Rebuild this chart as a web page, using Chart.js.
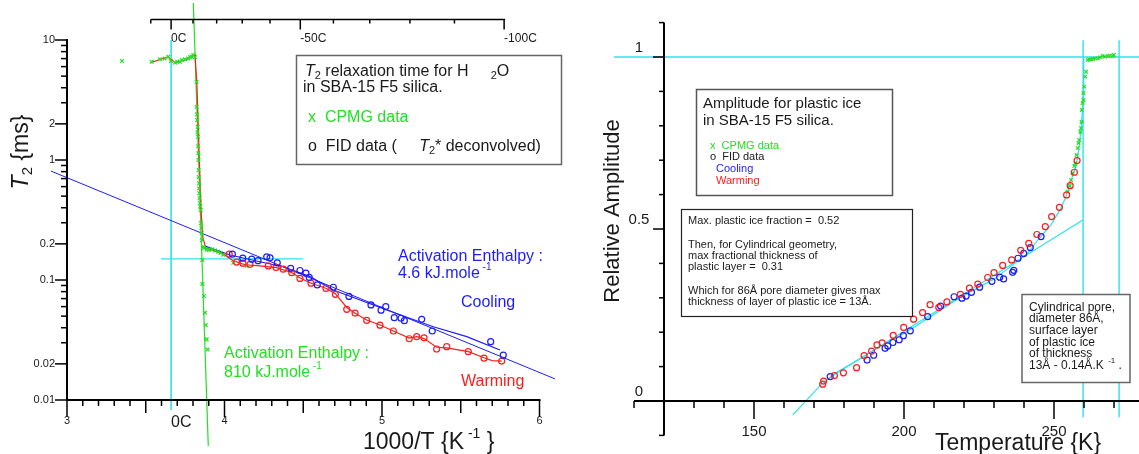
<!DOCTYPE html>
<html lang="en">
<head>
  <meta charset="UTF-8" />
  <title>T2 relaxation and plastic ice amplitude, H2O in SBA-15 F5</title>
  <script src="https://cdn.jsdelivr.net/npm/chart.js"></script>
  <style>
    html, body {
      margin: 0;
      padding: 0;
      background: #ffffff;
      width: 1139px;
      height: 454px;
      overflow: hidden;
    }
    canvas { position: absolute; top: 0; }
    #leftChart { left: 0; }
    #rightChart { left: 580px; }
  </style>
</head>
<body>
  <canvas id="leftChart" width="580" height="454"></canvas>
  <canvas id="rightChart" width="559" height="454"></canvas>

  <script>
    // ---------- left panel: T2 (ms) against 1000/T (K^-1) ----------
    const cpmgX = [3.349, 3.538, 3.590, 3.620, 3.643, 3.660, 3.686, 3.700, 3.717, 3.730, 3.749, 3.770, 3.781, 3.790, 3.802, 3.813,
                   3.823, 3.823, 3.826, 3.827, 3.829, 3.830, 3.832, 3.833, 3.834, 3.835, 3.836, 3.837, 3.838, 3.839, 3.840, 3.842,
                   3.844, 3.846, 3.849, 3.851, 3.853, 3.855, 3.857, 3.859, 3.865, 3.870, 3.887, 3.900, 3.919, 3.940, 3.961, 3.975,
                   3.992, 4.056, 4.141, 3.859, 3.870, 3.876, 3.881, 3.887, 3.893];
    const cpmgY = [6.68, 6.59, 6.90, 7.00, 7.26, 6.70, 6.47, 6.60, 6.59, 6.80, 6.90, 7.00, 7.18, 7.30, 7.50, 7.18,
                   4.49, 2.78, 2.40, 2.15, 1.70, 1.89, 1.56, 1.30, 1.14, 1.00, 0.825, 0.72, 0.64, 0.58, 0.528, 0.48,
                   0.438, 0.41, 0.383, 0.298, 0.27, 0.246, 0.215, 0.147, 0.189, 0.185, 0.180, 0.178, 0.180, 0.176, 0.172, 0.168,
                   0.162, 0.139, 0.131, 0.0927, 0.0736, 0.0534, 0.0422, 0.0320, 0.0264];

    const coolX = [4.050, 4.116, 4.173, 4.213, 4.268, 4.289, 4.335, 4.420, 4.479, 4.517, 4.538, 4.589, 4.691, 4.790,
                   4.930, 4.994, 5.024, 5.078, 5.121, 5.142, 5.252, 5.319, 5.690, 5.770];
    const coolY = [0.164, 0.152, 0.149, 0.145, 0.156, 0.153, 0.139, 0.125, 0.120, 0.114, 0.105, 0.091, 0.087, 0.073,
                   0.062, 0.056, 0.060, 0.0485, 0.048, 0.0458, 0.047, 0.0376, 0.0306, 0.0237];

    const warmX = [4.030, 4.077, 4.117, 4.162, 4.278, 4.327, 4.373, 4.427, 4.479, 4.549, 4.644, 4.704, 4.776, 4.829,
                   4.903, 4.987, 5.072, 5.173, 5.220, 5.267, 5.347, 5.411, 5.548, 5.648, 5.760];
    const warmY = [0.164, 0.141, 0.138, 0.135, 0.131, 0.127, 0.123, 0.115, 0.103, 0.094, 0.085, 0.076, 0.057, 0.053,
                   0.046, 0.042, 0.0376, 0.0324, 0.0337, 0.0330, 0.0266, 0.0278, 0.0253, 0.0223, 0.0211];

    // smoothed curves through the data
    const warmLineX = [3.531, 3.590, 3.641, 3.686, 3.749, 3.813, 3.825, 3.838, 3.851, 3.863, 3.881, 3.908, 3.990, 4.054,
                       4.130, 4.225, 4.330, 4.430, 4.480, 4.550, 4.644, 4.704, 4.776, 4.829, 4.903, 4.987, 5.072, 5.173,
                       5.220, 5.267, 5.347, 5.411, 5.548, 5.648, 5.700, 5.760];
    const warmLineY = [6.47, 6.88, 7.20, 6.47, 6.81, 7.50, 4.22, 1.21, 0.383, 0.224, 0.185, 0.180, 0.166, 0.145,
                       0.134, 0.131, 0.1266, 0.115, 0.104, 0.094, 0.0853, 0.077, 0.059, 0.0528, 0.0464, 0.0422, 0.0376, 0.0328,
                       0.0337, 0.0325, 0.0275, 0.0272, 0.0253, 0.0225, 0.0213, 0.0211];
    const coolLineX = [3.870, 3.887, 4.035, 4.225, 4.373, 4.543, 4.691, 5.030, 5.326, 5.538, 5.749];
    const coolLineY = [0.195, 0.1895, 0.1616, 0.142, 0.129, 0.1066, 0.0826, 0.0562, 0.0408, 0.0337, 0.0261];

    // activation-enthalpy fits and guide lines
    const slowFitX = [2.898, 6.098];
    const slowFitY = [0.809, 0.0150];
    const fastFitX = [3.802, 3.897];
    const fastFitY = [20.3, 0.00414];
    const zeroCX = [1000 / 273.15, 1000 / 273.15];
    const zeroCY = [10, 0.00826];
    const levelX = [3.597, 4.498];
    const levelY = [0.15, 0.15];

    const t2Ticks = [10, 2, 1, 0.2, 0.1, 0.02, 0.01];
    const t2TickLabels = ['10', '2', '1', '0.2', '0.1', '0.02', '0.01'];
    const invTTicks = [3, 4, 5, 6];
    const celsiusTicks = [0, -50, -100];
    const celsiusLabels = ['0C', '-50C', '-100C'];

    // ---------- right panel: relative amplitude against temperature ----------
    const ampCpmgT = [254.6, 255.2, 255.7, 256.2, 256.8, 257.1, 257.5, 257.9, 258.2, 258.4, 258.8, 259.0, 259.2, 259.3,
                      259.5, 259.8, 259.8, 260.1, 260.4, 260.7, 261.2, 261.7, 262.3, 263.0, 263.7, 264.6, 265.3, 266.2,
                      267.0, 267.9, 268.7, 269.6, 270.0, 270.7];
    const ampCpmgA = [0.608, 0.625, 0.642, 0.662, 0.683, 0.691, 0.715, 0.735, 0.750, 0.759, 0.782, 0.793, 0.811, 0.846,
                      0.866, 0.875, 0.895, 0.914, 0.943, 0.957, 0.991, 0.993, 0.993, 0.994, 0.996, 0.996, 0.999, 1.003,
                      1.001, 1.003, 1.004, 1.003, 1.006, 1.006];

    const ampCoolT = [175.4, 187.7, 189.9, 193.7, 194.6, 196.3, 198.4, 199.8, 202.1, 207.9, 212.2, 216.7, 219.3, 220.7,
                      222.5, 225.2, 229.3, 231.9, 233.2, 236.2, 236.6, 238.0, 239.9, 242.1, 245.7];
    const ampCoolA = [0.071, 0.119, 0.133, 0.153, 0.160, 0.170, 0.178, 0.190, 0.204, 0.245, 0.276, 0.303, 0.299, 0.305,
                      0.316, 0.331, 0.348, 0.360, 0.355, 0.374, 0.380, 0.415, 0.429, 0.446, 0.478];

    const ampWarmT = [172.9, 173.2, 176.8, 179.8, 184.2, 186.7, 189.2, 191.0, 192.7, 196.4, 199.9, 203.2, 206.2, 208.7,
                      211.6, 214.3, 218.8, 221.8, 224.6, 227.9, 230.0, 232.9, 235.9, 238.9, 241.6, 244.3, 247.1, 249.2,
                      251.8, 254.2, 255.4, 256.8, 257.7];
    const ampWarmA = [0.049, 0.058, 0.074, 0.082, 0.097, 0.132, 0.145, 0.163, 0.169, 0.191, 0.214, 0.238, 0.257, 0.280,
                      0.272, 0.288, 0.310, 0.328, 0.340, 0.359, 0.373, 0.394, 0.410, 0.438, 0.458, 0.484, 0.507, 0.536,
                      0.563, 0.599, 0.626, 0.665, 0.699];

    const modelT = [162.9, 167.9, 172.3, 177.9, 184.6, 192.3, 200.1, 207.9, 215.7, 222.3, 230.1, 241.2, 244.6, 249.0,
                    252.3, 254.0, 255.7, 257.3, 258.4, 259.2, 259.7, 259.9, 259.9];
    const modelA = [-0.041, 0.006, 0.047, 0.085, 0.119, 0.160, 0.197, 0.240, 0.284, 0.318, 0.355, 0.429, 0.468, 0.512,
                    0.560, 0.594, 0.642, 0.681, 0.739, 0.807, 0.885, 0.953, 1.0];
    const layerT = [175, 259.6];
    const layerA = [0.067, 0.526];
    const meltT1 = [259.7, 259.7];
    const meltT2 = [271.7, 271.7];
    const meltA = [-0.047, 1.049];
    const fullT = [103.3, 279];
    const fullA = [1, 1];

    const ampTicks = [1, 0.5, 0];
    const ampTickLabels = ['1', '0.5', '0'];
    const tempTicks = [150, 200, 250];

    // ---------- helpers ----------
    const FONT = 'Arial, "Liberation Sans", Helvetica, sans-serif';
    const GREEN = '#22e022', BLUE = '#1c1cff', RED = '#ff1c1c', CYAN = '#2ee2ee', INK = '#1a1a1a';

    const pts = (xs, ys) => xs.map((x, i) => ({ x: x, y: ys[i] }));

    function seg(ctx, x1, y1, x2, y2) {
      ctx.beginPath();
      ctx.moveTo(x1, y1);
      ctx.lineTo(x2, y2);
      ctx.stroke();
    }

    function fontOf(p) {
      return (p[3] ? 'italic ' : '') + p[1] + 'px ' + FONT;
    }

    // parts: [text, size, dy, italic, color]
    function rich(ctx, parts, x, y, align, color) {
      ctx.textBaseline = 'middle';
      ctx.textAlign = 'left';
      let w = 0;
      parts.forEach(p => { ctx.font = fontOf(p); w += ctx.measureText(p[0]).width; });
      let cx = align === 'center' ? x - w / 2 : (align === 'right' ? x - w : x);
      parts.forEach(p => {
        ctx.font = fontOf(p);
        ctx.fillStyle = p[4] || color || INK;
        ctx.fillText(p[0], cx, y + (p[2] || 0));
        cx += ctx.measureText(p[0]).width;
      });
    }

    function txt(ctx, s, x, y, size, color, align) {
      rich(ctx, [[s, size]], x, y, align, color);
    }

    function box(ctx, x, y, w, h, stroke, lw) {
      ctx.fillStyle = '#ffffff';
      ctx.fillRect(x, y, w, h);
      ctx.strokeStyle = stroke;
      ctx.lineWidth = lw;
      ctx.strokeRect(x, y, w, h);
    }

    function lineSet(data, color, width) {
      return { data: data, showLine: true, borderColor: color, borderWidth: width || 1,
               pointRadius: 0, fill: false, clip: false };
    }
    function markSet(data, color, style, r) {
      return { data: data, showLine: false, pointStyle: style, pointRadius: r,
               borderColor: color, backgroundColor: 'rgba(0,0,0,0)', pointBorderWidth: 1.2, clip: false };
    }

    // ---------- left panel decoration ----------
    const leftDecor = {
      id: 'leftDecor',
      afterDatasetsDraw(chart) {
        const ctx = chart.ctx, xs = chart.scales.x, ys = chart.scales.y;
        const ax = xs.getPixelForValue(3), bx = xs.getPixelForValue(6);
        const ay = ys.getPixelForValue(0.01), by = ys.getPixelForValue(10);
        ctx.save();
        ctx.strokeStyle = '#000';
        ctx.lineWidth = 2;
        seg(ctx, ax, by - 1, ax, ay + 1);
        seg(ctx, ax - 1, ay, bx + 1, ay);

        ctx.lineWidth = 1.5;
        [0.01, 0.1, 1].forEach(d => {
          for (let m = 1; m <= 9; m++) {
            const v = d * m;
            const major = t2Ticks.some(t => Math.abs(t - v) < v * 1e-6);
            const py = ys.getPixelForValue(v);
            seg(ctx, ax - (major ? 12 : 6), py, ax, py);
          }
        });
        seg(ctx, ax - 12, by, ax, by);
        t2Ticks.forEach((v, i) => txt(ctx, t2TickLabels[i], ax - 12, ys.getPixelForValue(v), 11, INK, 'right'));

        for (let i = 0; i <= 30; i++) {
          const px = xs.getPixelForValue(3 + i / 10);
          const len = i % 10 === 0 ? 17 : (i % 5 === 0 ? 13 : 6);
          seg(ctx, px, ay, px, ay + len);
        }
        invTTicks.forEach(v => txt(ctx, String(v), xs.getPixelForValue(v), ay + 21, 11, INK, 'center'));

        // Celsius scale along the top
        const cx = c => xs.getPixelForValue(1000 / (c + 273.15));
        const topY = 19.5;
        seg(ctx, cx(10), topY, cx(-100) + 1, topY);
        for (let c = 10; c >= -100; c -= 10) {
          seg(ctx, cx(c), topY, cx(c), topY + (c % 50 === 0 ? 10 : 4));
        }
        celsiusTicks.forEach((c, i) => txt(ctx, celsiusLabels[i], cx(c), 39, 12, INK, 'left'));
        ctx.restore();
      },
      afterDraw(chart) {
        const ctx = chart.ctx;
        ctx.save();
        // axis titles
        ctx.save();
        ctx.translate(22, 152);
        ctx.rotate(-Math.PI / 2);
        rich(ctx, [['T', 23, 0, true], ['2', 15, 6], [' {ms}', 23]], 0, 0, 'center');
        ctx.restore();
        rich(ctx, [['1000/T {K', 23], [' -1', 14, -9], [' }', 23]], 363, 443, 'left');
        txt(ctx, '0C', 171, 423, 16, INK, 'left');

        // legend box
        box(ctx, 296.5, 55.5, 265, 109, '#666', 1.5);
        rich(ctx, [['T', 16, 0, true], ['2', 11, 4], [' relaxation time for H     ', 16], ['2', 11, 4], ['O', 16]], 305, 72);
        txt(ctx, 'in SBA-15 F5 silica.', 303, 88, 16, INK, 'left');
        txt(ctx, 'x  CPMG data', 308, 118, 16, GREEN, 'left');
        rich(ctx, [['o  FID data (     ', 16], ['T', 16, 0, true], ['2', 11, 4], ['* deconvolved)', 16]], 308, 147);

        // fit annotations
        txt(ctx, 'Activation Enthalpy :', 398, 257, 16, BLUE, 'left');
        rich(ctx, [['4.6 kJ.mole', 16], [' -1', 10, -7]], 398, 274, 'left', BLUE);
        txt(ctx, 'Cooling', 461, 303, 16, BLUE, 'left');
        txt(ctx, 'Warming', 461, 382, 16, RED, 'left');
        txt(ctx, 'Activation Enthalpy :', 224, 354, 16, GREEN, 'left');
        rich(ctx, [['810 kJ.mole', 16], [' -1', 10, -7]], 224, 373, 'left', GREEN);
        ctx.restore();
      }
    };

    new Chart(document.getElementById('leftChart'), {
      type: 'scatter',
      data: {
        datasets: [
          markSet(pts(coolX, coolY), BLUE, 'circle', 3),
          markSet(pts(warmX, warmY), RED, 'circle', 3),
          markSet(pts(cpmgX, cpmgY), GREEN, 'crossRot', 2.6),
          lineSet(pts(warmLineX, warmLineY), RED, 1.2),
          lineSet(pts(coolLineX, coolLineY), BLUE, 1.2),
          lineSet(pts(slowFitX, slowFitY), BLUE, 1),
          lineSet(pts(fastFitX, fastFitY), GREEN, 1.2),
          lineSet(pts(levelX, levelY), CYAN, 1.2),
          lineSet(pts(zeroCX, zeroCY), CYAN, 1.6)
        ]
      },
      options: {
        responsive: false,
        animation: false,
        devicePixelRatio: 1,
        events: [],
        layout: { padding: { left: 67, right: 40.5, top: 40, bottom: 54 } },
        plugins: { legend: { display: false }, tooltip: { enabled: false } },
        scales: {
          x: { type: 'linear', min: 3, max: 6, display: false },
          y: { type: 'logarithmic', min: 0.01, max: 10, display: false }
        }
      },
      plugins: [leftDecor]
    });

    // ---------- right panel decoration ----------
    const rightDecor = {
      id: 'rightDecor',
      afterDatasetsDraw(chart) {
        const ctx = chart.ctx, xs = chart.scales.x, ys = chart.scales.y;
        const ax = xs.getPixelForValue(120);
        const zy = ys.getPixelForValue(0);
        ctx.save();
        ctx.strokeStyle = '#000';
        ctx.lineWidth = 2;
        seg(ctx, ax, ys.getPixelForValue(1.1), ax, ys.getPixelForValue(-0.1));
        seg(ctx, xs.getPixelForValue(110), zy, xs.getPixelForValue(282), zy);
        ctx.lineWidth = 1.5;
        for (let i = -1; i <= 11; i++) {
          const py = ys.getPixelForValue(i / 10);
          seg(ctx, ax - (i % 5 === 0 ? 11 : 5), py, ax, py);
        }
        ampTicks.forEach((v, i) => txt(ctx, ampTickLabels[i], ax - 25, ys.getPixelForValue(v) - 9, 15, INK, 'center'));
        for (let t = 110; t <= 280; t += 10) {
          const px = xs.getPixelForValue(t);
          seg(ctx, px, zy, px, zy + (t % 50 === 0 ? 18 : 7));
        }
        tempTicks.forEach(t => txt(ctx, String(t), xs.getPixelForValue(t), zy + 31, 15, INK, 'center'));
        ctx.restore();
      },
      afterDraw(chart) {
        const ctx = chart.ctx;
        const o = -580; // page x to canvas x
        ctx.save();
        ctx.save();
        ctx.translate(613 + o, 211);
        ctx.rotate(-Math.PI / 2);
        txt(ctx, 'Relative Amplitude', 0, 0, 22, INK, 'center');
        ctx.restore();
        txt(ctx, 'Temperature {K}', 1018 + o, 444, 23, INK, 'center');

        box(ctx, 696.5 + o, 89.5, 196, 106, '#555', 1.5);
        txt(ctx, 'Amplitude for plastic ice', 703 + o, 104, 15, INK, 'left');
        txt(ctx, 'in SBA-15 F5 silica.', 703 + o, 121, 15, INK, 'left');
        txt(ctx, 'x  CPMG data', 710 + o, 145.5, 11, GREEN, 'left');
        txt(ctx, 'o  FID data', 710 + o, 157, 11, INK, 'left');
        txt(ctx, 'Cooling', 716 + o, 169, 11, BLUE, 'left');
        txt(ctx, 'Warming', 716 + o, 181, 11, RED, 'left');

        box(ctx, 681.5 + o, 209.5, 231, 107, '#222', 1.2);
        const notes = ['Max. plastic ice fraction =  0.52', '', 'Then, for Cylindrical geometry,',
                       'max fractional thickness of', 'plastic layer =  0.31', '',
                       'Which for 86Å pore diameter gives max', 'thickness of layer of plastic ice = 13Å.'];
        const noteY = [221, 0, 244.7, 256, 267.3, 0, 291.3, 302.3];
        notes.forEach((s, i) => { if (s) txt(ctx, s, 688 + o, noteY[i], 11, INK, 'left'); });

        box(ctx, 1022 + o, 294.5, 108, 88, '#666', 1.5);
        const pore = ['Cylindrical pore,', 'diameter 86Å,', 'surface layer', 'of plastic ice', 'of thickness'];
        pore.forEach((s, i) => txt(ctx, s, 1029 + o, 307.3 + i * 11.7, 12, INK, 'left'));
        rich(ctx, [['13Å - 0.14Å.K', 12], ['  -1', 8, -5], [' .', 12]], 1029 + o, 366, 'left');
        ctx.restore();
      }
    };

    new Chart(document.getElementById('rightChart'), {
      type: 'scatter',
      data: {
        datasets: [
          markSet(pts(ampWarmT, ampWarmA), RED, 'circle', 3),
          markSet(pts(ampCoolT, ampCoolA), BLUE, 'circle', 3),
          markSet(pts(ampCpmgT, ampCpmgA), GREEN, 'crossRot', 2.5),
          lineSet(pts(modelT, modelA), CYAN, 1.2),
          lineSet(pts(layerT, layerA), CYAN, 1.2),
          lineSet(pts(meltT1, meltA), CYAN, 1.4),
          lineSet(pts(meltT2, meltA), CYAN, 1.4),
          lineSet(pts(fullT, fullA), CYAN, 1.4)
        ]
      },
      options: {
        responsive: false,
        animation: false,
        devicePixelRatio: 1,
        events: [],
        layout: { padding: { left: 84, right: 25, top: 22.6, bottom: 18.6 } },
        plugins: { legend: { display: false }, tooltip: { enabled: false } },
        scales: {
          x: { type: 'linear', min: 120, max: 270, display: false },
          y: { type: 'linear', min: -0.1, max: 1.1, display: false }
        }
      },
      plugins: [rightDecor]
    });
  </script>
</body>
</html>
